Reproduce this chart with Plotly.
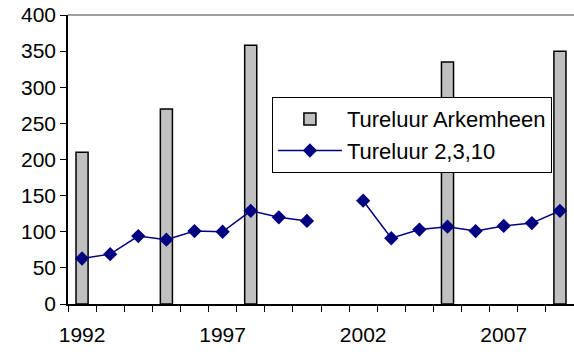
import plotly.graph_objects as go

years = list(range(1992, 2010))
arkemheen_years = [1992, 1995, 1998, 2005, 2009]
arkemheen_vals = [210, 270, 358, 335, 350]
t2310_vals = [63, 69, 94, 89, 101, 100, 129, 120, 115, None, 143, 91, 103, 107, 101, 108, 112, 129]
x_labels = [1992, 1997, 2002, 2007]
y_ticks = [0, 50, 100, 150, 200, 250, 300, 350, 400]

FONT = "Liberation Sans, Arial, sans-serif"

fig = go.Figure()
fig.add_trace(go.Bar(
    x=arkemheen_years, y=arkemheen_vals, name="Tureluur Arkemheen",
    width=0.43, marker=dict(color="#C0C0C0", line=dict(color="black", width=1.5)),
))
fig.add_trace(go.Scatter(
    x=years, y=t2310_vals, name="Tureluur 2,3,10", mode="lines+markers",
    connectgaps=False,
    line=dict(color="#000080", width=1.5),
    marker=dict(symbol="diamond", size=11, color="#000080"),
))

fig.update_layout(
    width=574, height=352,
    margin=dict(l=68, r=0, t=15, b=48),
    paper_bgcolor="white", plot_bgcolor="white",
    font=dict(family=FONT, size=21, color="black"),
    showlegend=True,
    legend=dict(
        x=0.403, y=0.716, xanchor="left", yanchor="top",
        bgcolor="white", bordercolor="black", borderwidth=1,
        font=dict(family=FONT, size=22, color="black"),
        itemwidth=64, tracegroupgap=0,
    ),
    xaxis=dict(
        range=[1991.5, 2009.5], tickmode="array", tickvals=x_labels,
        ticktext=[str(v) for v in x_labels], ticks="", showgrid=False,
        showline=True, linecolor="black", linewidth=1.5, zeroline=False,
        tickfont=dict(size=21),
        minor=dict(ticks="outside", tick0=1991.5, dtick=1, ticklen=6,
                   tickcolor="black", tickwidth=1, showgrid=False),
        ticklabelstandoff=11,
    ),
    yaxis=dict(
        range=[0, 400], tickmode="array", tickvals=y_ticks,
        ticks="outside", ticklen=6, tickcolor="black", showgrid=False,
        showline=True, linecolor="black", linewidth=1.5, zeroline=False,
        tickfont=dict(size=21),
    ),
    shapes=[dict(type="line", xref="paper", yref="paper", x0=0, x1=1, y0=1, y1=1,
                 line=dict(color="#808080", width=1.5))],
)

fig.write_html("out.html")
